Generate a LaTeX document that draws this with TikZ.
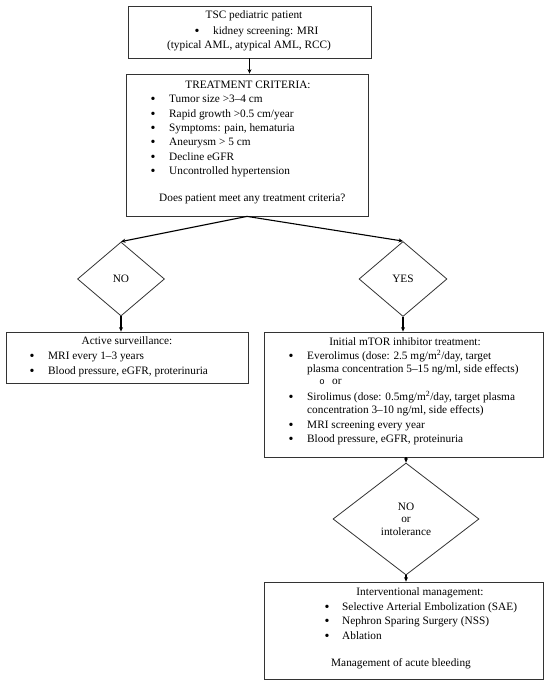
\documentclass[tikz,border=0pt]{standalone}
\usepackage{fontspec}
\setmainfont{Liberation Serif}
\newfontfamily\monof{Liberation Mono}
\usetikzlibrary{shapes.geometric,arrows.meta}
\begin{document}
\begin{tikzpicture}[x=1pt,y=-1pt,
  font=\fontsize{11.3}{13.5}\selectfont,
  boxnode/.style={draw=black!80,line width=0.8pt,rectangle,inner sep=0pt},
  dianode/.style={draw=black!80,line width=0.8pt,diamond,inner sep=0pt,align=center,font=\fontsize{11.3}{12.5}\selectfont},
  conn/.style={line width=1.1pt,-{Stealth[length=4.5pt,width=4pt]}},
  txt/.style={inner sep=0pt,anchor=mid west},
  ctxt/.style={inner sep=0pt,anchor=mid},
  bul/.style={inner sep=0pt,anchor=center,font=\fontsize{14}{14}\selectfont}
]
\useasboundingbox[fill=white] (0,0) rectangle (550,684);

% boxes
\node[boxnode,minimum width=243pt,minimum height=52pt] (box1) at (249.5,32) {};
\node[boxnode,minimum width=242pt,minimum height=142pt] (box2) at (247,145) {};
\node[dianode,minimum width=87pt,minimum height=74pt] (dno) at (121,279) {NO};
\node[dianode,minimum width=88pt,minimum height=75pt] (dyes) at (403,279) {YES};
\node[boxnode,minimum width=242pt,minimum height=51pt] (active) at (127,357.5) {};
\node[boxnode,minimum width=279pt,minimum height=125pt] (mtor) at (403.5,394.5) {};
\node[dianode,minimum width=146pt,minimum height=112pt] (dint) at (406,519) {NO\\or\\intolerance};
\node[boxnode,minimum width=279pt,minimum height=97pt] (interv) at (403.5,630.5) {};

% connectors
\draw[conn] (box1.south) -- (box1.south |- box2.north);
\draw[conn] (box2.south) -- (dno.north);
\draw[conn] (box2.south) -- (dyes.north);
\draw[conn] (dno.south) -- (dno.south |- active.north);
\draw[conn] (dyes.south) -- (dyes.south |- mtor.north);
\draw[conn] (dint.north |- mtor.south) -- (dint.north);
\draw[conn] (dint.south) -- (dint.south |- interv.north);

% box1 text
\node[ctxt] (t1a) at (254,16) {TSC pediatric patient};
\node[bul] (t1b) at (197,32) {•};
\node[txt] (t1c) at (213,32) {kidney screening: MRI};
\node[ctxt] (t1d) at (249,46) {(typical AML, atypical AML, RCC)};

% box2 text
\node[ctxt] (t2a) at (248,86) {TREATMENT CRITERIA:};
\foreach \yy/\tt [count=\i] in {100/{Tumor size >3–4 cm},115/{Rapid growth >0.5 cm/year},129/{Symptoms: pain, hematuria},143/{Aneurysm > 5 cm},158/{Decline eGFR},172/{Uncontrolled hypertension}}{
  \node[bul] (b2\i) at (153,\yy) {•};
  \node[txt] (t2\i) at (169,\yy) {\tt};
}
\node[txt] (t2q) at (159,199) {Does patient meet any treatment criteria?};

% active surveillance text
\node[ctxt] (t3a) at (127,342) {Active surveillance:};
\node[bul] (b31) at (32,357) {•};
\node[txt] (t31) at (48,357) {MRI every 1–3 years};
\node[bul] (b32) at (32,372) {•};
\node[txt] (t32) at (48,372) {Blood pressure, eGFR, proterinuria};

% mTOR text
\node[ctxt] (t4a) at (405,343) {Initial mTOR inhibitor treatment:};
\node[bul] (b41) at (291,357) {•};
\node[txt] (t41) at (307,357) {Everolimus (dose: 2.5 mg/m\textsuperscript{2}/day, target};
\node[txt] (t42) at (307,370) {plasma concentration 5–15 ng/ml, side effects)};
\node[inner sep=0pt,anchor=center] (b43) at (322,382) {\monof\fontsize{9}{10}\selectfont o};
\node[txt] (t43) at (332,382) {or};
\node[bul] (b44) at (291,398) {•};
\node[txt] (t44) at (307,398) {Sirolimus (dose: 0.5mg/m\textsuperscript{2}/day, target plasma};
\node[txt] (t45) at (307,411) {concentration 3–10 ng/ml, side effects)};
\node[bul] (b46) at (291,426) {•};
\node[txt] (t46) at (307,426) {MRI screening every year};
\node[bul] (b47) at (291,440) {•};
\node[txt] (t47) at (307,440) {Blood pressure, eGFR, proteinuria};

% interventional text
\node[ctxt] (t5a) at (420,593) {Interventional management:};
\node[bul] (b51) at (327,608) {•};
\node[txt] (t51) at (342,608) {Selective Arterial Embolization (SAE)};
\node[bul] (b52) at (327,622) {•};
\node[txt] (t52) at (342,622) {Nephron Sparing Surgery (NSS)};
\node[bul] (b53) at (327,637) {•};
\node[txt] (t53) at (342,637) {Ablation};
\node[ctxt] (t5b) at (401,664) {Management of acute bleeding};
\end{tikzpicture}
\end{document}
